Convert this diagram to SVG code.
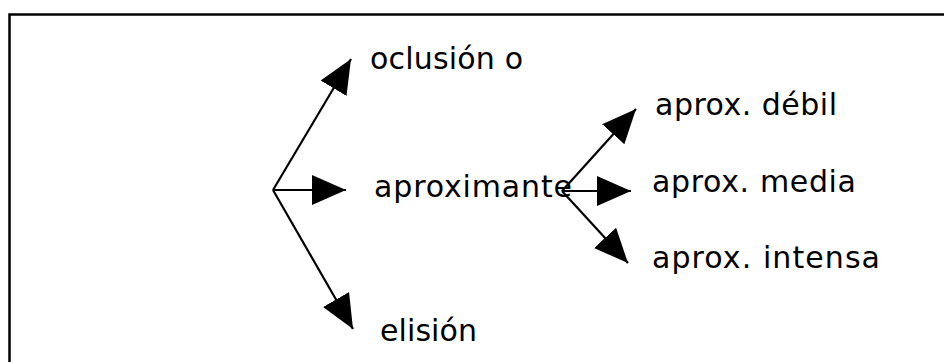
<svg xmlns="http://www.w3.org/2000/svg" width="944" height="362" viewBox="0 0 944 362">
<style>
  .lbl { font-family: "DejaVu Sans", Verdana, sans-serif; font-size: 30px; fill: #000; }
  .conn { stroke: #000; stroke-width: 2.2; fill: none; marker-end: url(#arrow); }
  .frame { stroke: #000; stroke-width: 2.5; fill: none; }
</style>
<defs>
  <marker id="arrow" markerUnits="userSpaceOnUse" markerWidth="36" markerHeight="32" refX="34" refY="15" orient="auto">
    <path d="M0,0 L34,15 L0,30 Z" fill="#000"/>
  </marker>
</defs>
<rect width="944" height="362" fill="#fff"/>
<path class="frame" d="M9.5,362 V14.5 H944"/>
<g id="connectors">
  <line class="conn" x1="273" y1="190" x2="351" y2="59"/>
  <line class="conn" x1="273" y1="190" x2="346" y2="190"/>
  <line class="conn" x1="273" y1="190" x2="353" y2="329"/>
  <line class="conn" x1="562" y1="191" x2="636" y2="109"/>
  <line class="conn" x1="562" y1="191" x2="631" y2="191"/>
  <line class="conn" x1="562" y1="191" x2="628" y2="263"/>
</g>
<g id="n-oclusion"><text class="lbl" x="370" y="69" textLength="153">oclusión o</text></g>
<g id="n-aproximante"><text class="lbl" x="374" y="197" textLength="198">aproximante</text></g>
<g id="n-elision"><text class="lbl" x="380" y="341" textLength="97">elisión</text></g>
<g id="n-debil"><text class="lbl" x="655" y="115" textLength="182">aprox. débil</text></g>
<g id="n-media"><text class="lbl" x="652" y="192" textLength="204">aprox. media</text></g>
<g id="n-intensa"><text class="lbl" x="652" y="268" textLength="228">aprox. intensa</text></g>
</svg>
